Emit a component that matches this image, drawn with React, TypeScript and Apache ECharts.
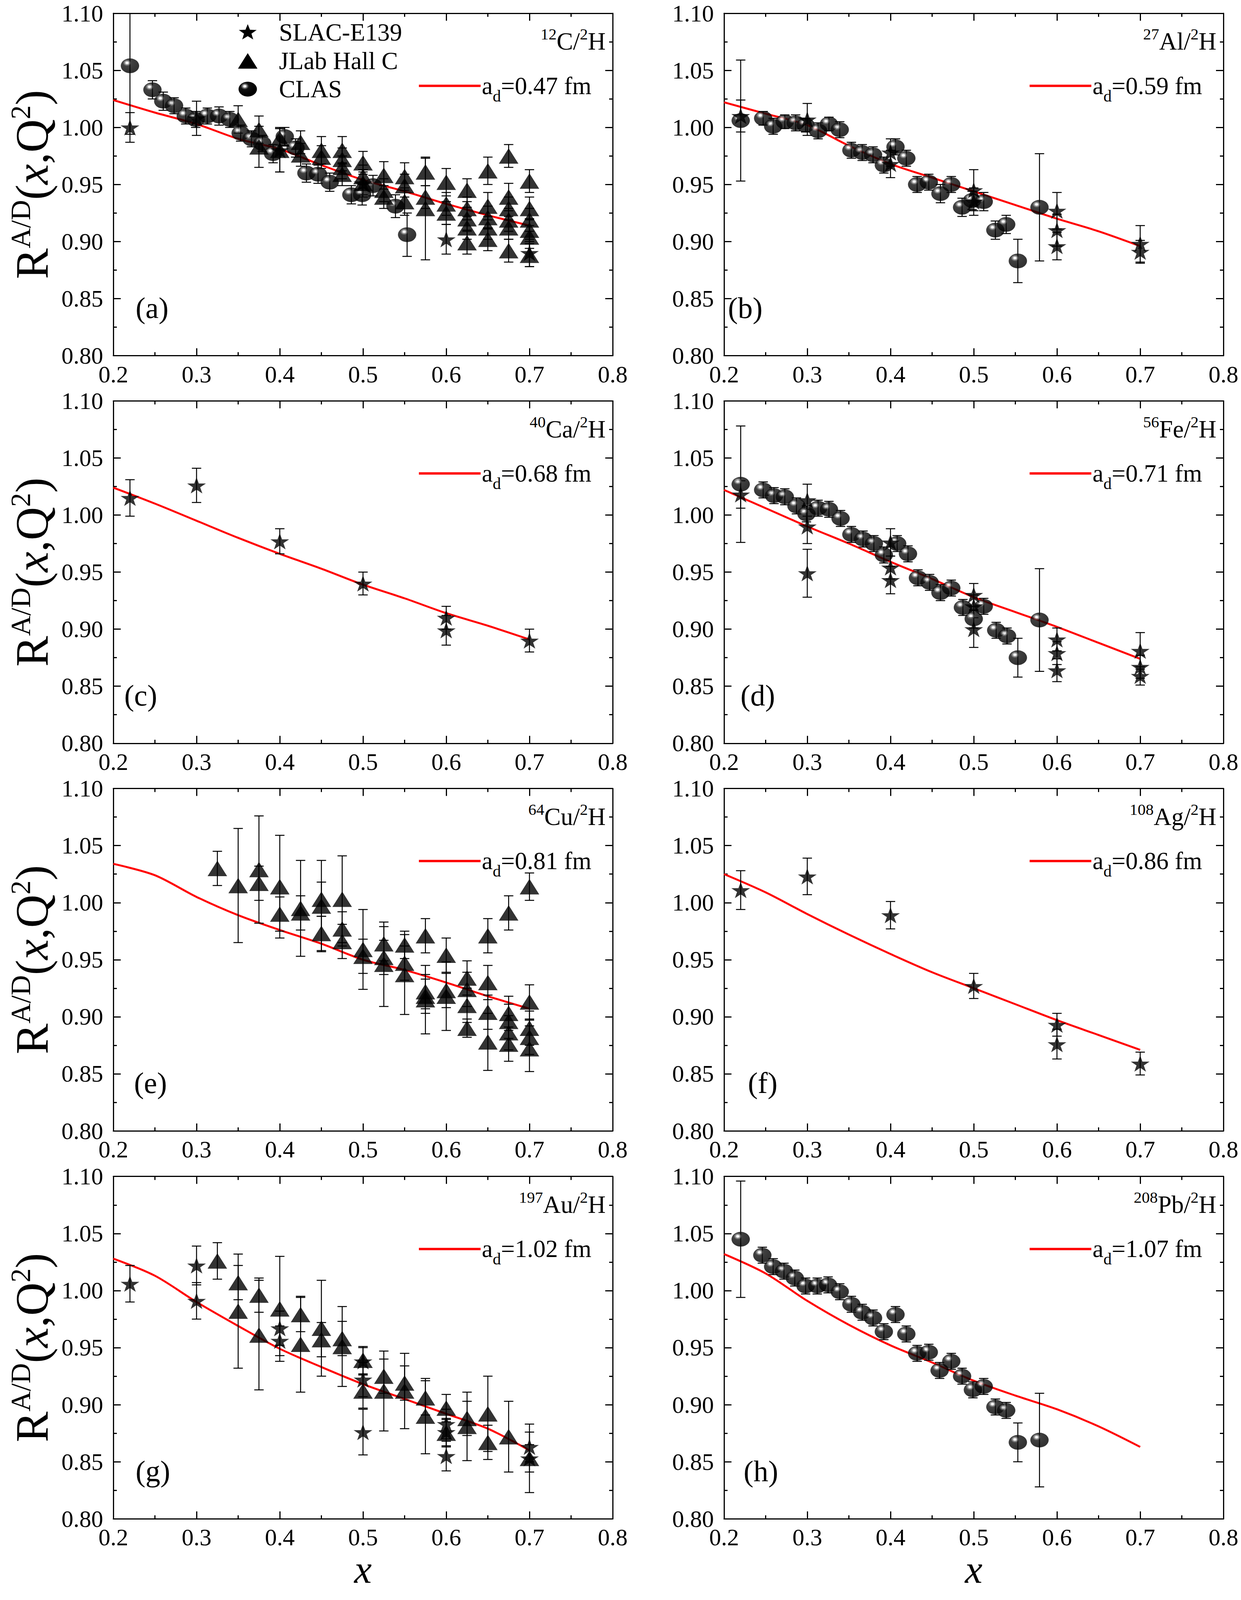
import React, { useEffect, useRef, useState } from 'react';
import * as echarts from 'echarts';

const W = 3176;
const H = 4809;
const SERIF = 'Liberation Serif';

// ---------- data ----------
const LINE_X = [0.2, 0.25, 0.3, 0.35, 0.4, 0.45, 0.5, 0.55, 0.6, 0.65, 0.7];
const LINE_C = [1.024, 1.013, 1.003, 0.990, 0.981, 0.967, 0.954, 0.944, 0.933, 0.923, 0.914];
const LINE_AL = [1.022, 1.012, 1.002, 0.984, 0.968, 0.956, 0.944, 0.932, 0.920, 0.909, 0.896];
const LINE_CA = [1.024, 1.010, 0.995, 0.980, 0.966, 0.953, 0.939, 0.927, 0.914, 0.903, 0.891];
const LINE_FE = [1.022, 1.006, 0.990, 0.975, 0.959, 0.944, 0.928, 0.915, 0.902, 0.888, 0.874];
const LINE_CU = [1.034, 1.024, 1.005, 0.989, 0.976, 0.964, 0.950, 0.941, 0.930, 0.918, 0.907];
const LINE_AG = [1.025, 1.009, 0.990, 0.972, 0.955, 0.939, 0.925, 0.911, 0.897, 0.884, 0.871];
const LINE_AU = [1.028, 1.013, 0.990, 0.969, 0.949, 0.933, 0.918, 0.905, 0.892, 0.879, 0.860];
const LINE_PB = [1.032, 1.015, 0.991, 0.970, 0.952, 0.937, 0.921, 0.908, 0.896, 0.881, 0.863];

// [x, R, error]
const SLAC_C = [[0.22, 1.000, 0.013], [0.30, 1.008, 0.015], [0.40, 0.980, 0.019], [0.50, 0.951, 0.012], [0.60, 0.902, 0.013], [0.70, 0.890, 0.012]];
const JLAB_C = [
  [0.35, 1.007, 0.012],
  [0.375, 0.998, 0.012], [0.375, 0.983, 0.018],
  [0.4, 0.990, 0.010], [0.4, 0.980, 0.019],
  [0.425, 0.987, 0.010], [0.425, 0.976, 0.010],
  [0.45, 0.980, 0.012], [0.45, 0.974, 0.010],
  [0.475, 0.980, 0.012], [0.475, 0.972, 0.010], [0.475, 0.965, 0.010], [0.475, 0.959, 0.010],
  [0.5, 0.969, 0.010], [0.5, 0.957, 0.010], [0.5, 0.951, 0.010],
  [0.525, 0.958, 0.012], [0.525, 0.945, 0.010], [0.525, 0.939, 0.010],
  [0.55, 0.957, 0.012], [0.55, 0.949, 0.010], [0.55, 0.935, 0.012],
  [0.575, 0.961, 0.012], [0.575, 0.939, 0.010], [0.575, 0.929, 0.045],
  [0.6, 0.952, 0.012], [0.6, 0.933, 0.010], [0.6, 0.925, 0.010],
  [0.625, 0.945, 0.010], [0.625, 0.929, 0.010], [0.625, 0.920, 0.010], [0.625, 0.912, 0.010], [0.625, 0.899, 0.010],
  [0.65, 0.962, 0.012], [0.65, 0.931, 0.012], [0.65, 0.921, 0.010], [0.65, 0.912, 0.010], [0.65, 0.902, 0.010],
  [0.675, 0.975, 0.010], [0.675, 0.939, 0.012], [0.675, 0.929, 0.010], [0.675, 0.919, 0.010], [0.675, 0.912, 0.010], [0.675, 0.892, 0.010],
  [0.7, 0.953, 0.010], [0.7, 0.929, 0.010], [0.7, 0.919, 0.010], [0.7, 0.910, 0.010], [0.7, 0.904, 0.010], [0.7, 0.888, 0.010],
];
const CLAS_C = [
  [0.22, 1.054, 0.060], [0.247, 1.033, 0.008], [0.26, 1.023, 0.008], [0.273, 1.019, 0.007], [0.287, 1.010, 0.007],
  [0.299, 1.007, 0.007], [0.313, 1.010, 0.007], [0.327, 1.010, 0.008], [0.34, 1.007, 0.007], [0.353, 0.995, 0.007],
  [0.366, 0.990, 0.007], [0.379, 0.986, 0.007], [0.392, 0.977, 0.008], [0.406, 0.992, 0.008], [0.419, 0.982, 0.008],
  [0.432, 0.960, 0.008], [0.446, 0.959, 0.008], [0.46, 0.952, 0.008], [0.486, 0.941, 0.008], [0.499, 0.941, 0.009],
  [0.512, 0.949, 0.009], [0.539, 0.931, 0.010], [0.553, 0.906, 0.019],
];

const SLAC_AL = [
  [0.22, 1.010, 0.014], [0.30, 1.007, 0.014], [0.40, 0.978, 0.012], [0.40, 0.968, 0.012], [0.50, 0.945, 0.018],
  [0.50, 0.935, 0.012], [0.60, 0.927, 0.016], [0.60, 0.910, 0.014], [0.60, 0.896, 0.012], [0.70, 0.898, 0.016], [0.70, 0.891, 0.010],
];
const CLAS_AL = [
  [0.22, 1.006, 0.053], [0.247, 1.008, 0.006], [0.259, 1.001, 0.007], [0.273, 1.005, 0.006], [0.286, 1.004, 0.007],
  [0.298, 1.002, 0.006], [0.313, 0.997, 0.007], [0.326, 1.003, 0.006], [0.339, 0.998, 0.007], [0.353, 0.980, 0.007],
  [0.366, 0.978, 0.007], [0.379, 0.976, 0.007], [0.392, 0.967, 0.007], [0.406, 0.983, 0.007], [0.419, 0.973, 0.007],
  [0.432, 0.950, 0.007], [0.446, 0.952, 0.007], [0.46, 0.942, 0.008], [0.473, 0.950, 0.007], [0.486, 0.930, 0.008],
  [0.498, 0.936, 0.008], [0.512, 0.935, 0.008], [0.526, 0.910, 0.008], [0.539, 0.915, 0.008], [0.553, 0.883, 0.019],
  [0.579, 0.930, 0.047],
];

const SLAC_CA = [[0.22, 1.015, 0.016], [0.30, 1.026, 0.015], [0.40, 0.977, 0.011], [0.50, 0.940, 0.010], [0.60, 0.910, 0.010], [0.60, 0.899, 0.013], [0.70, 0.890, 0.010]];

const SLAC_FE = [
  [0.22, 1.018, 0.012], [0.30, 1.013, 0.014], [0.30, 0.990, 0.015], [0.30, 0.949, 0.021], [0.40, 0.976, 0.012],
  [0.40, 0.954, 0.010], [0.40, 0.943, 0.012], [0.50, 0.930, 0.010], [0.50, 0.920, 0.010], [0.50, 0.900, 0.016],
  [0.60, 0.891, 0.010], [0.60, 0.879, 0.010], [0.60, 0.864, 0.010], [0.70, 0.881, 0.016], [0.70, 0.867, 0.010], [0.70, 0.859, 0.008],
];
const CLAS_FE = [
  [0.22, 1.027, 0.051], [0.247, 1.022, 0.007], [0.26, 1.017, 0.007], [0.273, 1.016, 0.007], [0.287, 1.008, 0.007],
  [0.299, 1.001, 0.007], [0.313, 1.006, 0.007], [0.326, 1.005, 0.007], [0.34, 0.997, 0.007], [0.353, 0.983, 0.007],
  [0.367, 0.979, 0.007], [0.38, 0.975, 0.007], [0.392, 0.965, 0.007], [0.408, 0.975, 0.007], [0.421, 0.966, 0.007],
  [0.433, 0.945, 0.007], [0.447, 0.941, 0.007], [0.46, 0.932, 0.007], [0.473, 0.936, 0.007], [0.487, 0.919, 0.007],
  [0.50, 0.909, 0.008], [0.512, 0.920, 0.007], [0.527, 0.899, 0.007], [0.54, 0.894, 0.007], [0.553, 0.875, 0.017],
  [0.579, 0.908, 0.045],
];

const JLAB_CU = [
  [0.325, 1.030, 0.015],
  [0.35, 1.015, 0.050],
  [0.375, 1.029, 0.047], [0.375, 1.017, 0.015],
  [0.4, 1.014, 0.045], [0.4, 0.990, 0.015],
  [0.425, 0.995, 0.042], [0.425, 0.991, 0.015],
  [0.45, 1.003, 0.015], [0.45, 0.997, 0.040], [0.45, 0.973, 0.015],
  [0.475, 1.003, 0.038], [0.475, 0.977, 0.015], [0.475, 0.966, 0.015],
  [0.5, 0.959, 0.035], [0.5, 0.953, 0.015],
  [0.525, 0.964, 0.015], [0.525, 0.952, 0.015], [0.525, 0.946, 0.037],
  [0.55, 0.963, 0.012], [0.55, 0.947, 0.015], [0.55, 0.937, 0.035],
  [0.575, 0.971, 0.015], [0.575, 0.922, 0.015], [0.575, 0.918, 0.015], [0.575, 0.915, 0.030],
  [0.6, 0.954, 0.015], [0.6, 0.923, 0.015], [0.6, 0.918, 0.030],
  [0.625, 0.934, 0.015], [0.625, 0.924, 0.015], [0.625, 0.910, 0.015], [0.625, 0.890, 0.008],
  [0.65, 0.971, 0.015], [0.65, 0.930, 0.015], [0.65, 0.904, 0.015], [0.65, 0.878, 0.025],
  [0.675, 0.991, 0.015], [0.675, 0.903, 0.015], [0.675, 0.896, 0.015], [0.675, 0.886, 0.015], [0.675, 0.876, 0.015],
  [0.7, 1.014, 0.012], [0.7, 0.913, 0.015], [0.7, 0.890, 0.015], [0.7, 0.882, 0.015], [0.7, 0.872, 0.020],
];

const SLAC_AG = [[0.22, 1.011, 0.017], [0.30, 1.023, 0.016], [0.40, 0.989, 0.012], [0.50, 0.927, 0.011], [0.60, 0.893, 0.010], [0.60, 0.876, 0.013], [0.70, 0.859, 0.010]];

const SLAC_AU = [
  [0.22, 1.006, 0.016], [0.30, 1.022, 0.017], [0.30, 0.991, 0.016], [0.40, 0.967, 0.015], [0.40, 0.956, 0.013],
  [0.50, 0.938, 0.012], [0.50, 0.922, 0.015], [0.50, 0.876, 0.020], [0.60, 0.883, 0.013], [0.60, 0.876, 0.012],
  [0.60, 0.855, 0.013], [0.70, 0.863, 0.013], [0.70, 0.853, 0.012],
];
const JLAB_AU = [
  [0.325, 1.026, 0.016],
  [0.35, 1.007, 0.015], [0.35, 0.982, 0.050],
  [0.375, 0.996, 0.015], [0.375, 0.961, 0.048],
  [0.4, 0.984, 0.046],
  [0.425, 0.979, 0.015], [0.425, 0.953, 0.042],
  [0.45, 0.967, 0.042], [0.45, 0.957, 0.015],
  [0.475, 0.958, 0.015], [0.475, 0.951, 0.035],
  [0.5, 0.939, 0.012], [0.5, 0.912, 0.015],
  [0.525, 0.925, 0.015], [0.525, 0.912, 0.035],
  [0.55, 0.919, 0.015], [0.55, 0.912, 0.033],
  [0.575, 0.906, 0.015], [0.575, 0.890, 0.033],
  [0.6, 0.897, 0.012], [0.6, 0.875, 0.012],
  [0.625, 0.888, 0.015], [0.625, 0.881, 0.030],
  [0.65, 0.892, 0.033], [0.65, 0.867, 0.015],
  [0.675, 0.872, 0.031],
  [0.7, 0.853, 0.030],
];

const CLAS_PB = [
  [0.22, 1.045, 0.051], [0.246, 1.031, 0.007], [0.259, 1.021, 0.007], [0.272, 1.017, 0.007], [0.285, 1.011, 0.007],
  [0.298, 1.004, 0.007], [0.312, 1.004, 0.007], [0.325, 1.005, 0.007], [0.339, 0.999, 0.007], [0.353, 0.988, 0.007],
  [0.366, 0.981, 0.007], [0.379, 0.976, 0.007], [0.392, 0.964, 0.007], [0.406, 0.979, 0.007], [0.419, 0.962, 0.007],
  [0.432, 0.945, 0.007], [0.446, 0.946, 0.007], [0.459, 0.930, 0.007], [0.473, 0.938, 0.007], [0.486, 0.925, 0.007],
  [0.499, 0.913, 0.007], [0.512, 0.916, 0.007], [0.526, 0.898, 0.007], [0.539, 0.895, 0.007], [0.553, 0.867, 0.017],
  [0.579, 0.869, 0.041],
];

const PANELS: any[] = [
  { tag: '(a)', num: '12', el: 'C', ad: '0.47', line: LINE_C, slac: SLAC_C, jlab: JLAB_C, clas: CLAS_C, legend: true },
  { tag: '(b)', num: '27', el: 'Al', ad: '0.59', line: LINE_AL, slac: SLAC_AL, clas: CLAS_AL },
  { tag: '(c)', num: '40', el: 'Ca', ad: '0.68', line: LINE_CA, slac: SLAC_CA },
  { tag: '(d)', num: '56', el: 'Fe', ad: '0.71', line: LINE_FE, slac: SLAC_FE, clas: CLAS_FE },
  { tag: '(e)', num: '64', el: 'Cu', ad: '0.81', line: LINE_CU, jlab: JLAB_CU },
  { tag: '(f)', num: '108', el: 'Ag', ad: '0.86', line: LINE_AG, slac: SLAC_AG },
  { tag: '(g)', num: '197', el: 'Au', ad: '1.02', line: LINE_AU, slac: SLAC_AU, jlab: JLAB_AU },
  { tag: '(h)', num: '208', el: 'Pb', ad: '1.07', line: LINE_PB, clas: CLAS_PB },
];

// ---------- layout (reference pixels; vertical values get scaled to the visible height) ----------
const COL_LEFT = [290, 1853];
const ROW_TOP = [40, 1205, 2370, 3536];
const GW = 1278;
const GH = 1029;
const TAG_X = [57, 10, 28, 42, 53, 61, 57, 50];

const STAR_PATH = 'path://M50,0 L61.8,35.4 L99,35.4 L69,57.3 L80.4,92.7 L50,70.8 L19.6,92.7 L31,57.3 L1,35.4 L38.2,35.4 Z';
const ELLIPSE_PATH = 'path://M0,50 A50,50 0 1,1 100,50 A50,50 0 1,1 0,50 Z';

const sphereFill = () =>
  new echarts.graphic.RadialGradient(0.34, 0.3, 0.62, [
    { offset: 0, color: '#ffffff' },
    { offset: 0.09, color: '#ffffff' },
    { offset: 0.15, color: '#b0b0b0' },
    { offset: 0.24, color: '#606060' },
    { offset: 0.36, color: '#111111' },
    { offset: 1, color: '#000000' },
  ]);

const errRender = (params: any, api: any) => {
  const x = api.value(0);
  const y = api.value(1);
  const e = api.value(2);
  const p0 = api.coord([x, y + e]);
  const p1 = api.coord([x, y - e]);
  const hw = 12;
  const style = { stroke: '#000', lineWidth: 2.5, fill: null };
  return {
    type: 'group',
    children: [
      { type: 'line', shape: { x1: p0[0], y1: p0[1], x2: p1[0], y2: p1[1] }, style },
      { type: 'line', shape: { x1: p0[0] - hw, y1: p0[1], x2: p0[0] + hw, y2: p0[1] }, style },
      { type: 'line', shape: { x1: p1[0] - hw, y1: p1[1], x2: p1[0] + hw, y2: p1[1] }, style },
    ],
  };
};

function buildOption(sy: number, hVis: number) {
  const grid: any[] = [];
  const xAxis: any[] = [];
  const yAxis: any[] = [];
  const series: any[] = [];
  const graphic: any[] = [];
  const fs = Math.max(0.9, sy);

  const tickStyle = { color: '#000', width: 3 };
  const labelStyle = { fontSize: Math.round(68 * fs), fontFamily: SERIF, color: '#000' };

  PANELS.forEach((p, i) => {
    const col = i % 2;
    const row = Math.floor(i / 2);
    const gl = COL_LEFT[col];
    const gt = ROW_TOP[row] * sy;
    const gh = GH * sy;
    grid.push({ left: gl, top: gt, width: GW, height: gh, containLabel: false });

    const xBase = {
      type: 'value', gridIndex: i, min: 0.2, max: 0.8, interval: 0.1,
      axisLine: { onZero: false, lineStyle: tickStyle },
      axisTick: { inside: true, length: 19, lineStyle: tickStyle },
      minorTick: { show: true, splitNumber: 2, length: 9, lineStyle: tickStyle },
      splitLine: { show: false }, minorSplitLine: { show: false },
    };
    xAxis.push({ ...xBase, position: 'bottom', axisLabel: { ...labelStyle, margin: 20 * sy, formatter: (v: number) => v.toFixed(1) } });
    xAxis.push({ ...xBase, position: 'top', axisLabel: { show: false } });

    const yBase = {
      type: 'value', gridIndex: i, min: 0.8, max: 1.1, interval: 0.05,
      axisLine: { onZero: false, lineStyle: tickStyle },
      axisTick: { inside: true, length: 19, lineStyle: tickStyle },
      minorTick: { show: true, splitNumber: 2, length: 9, lineStyle: tickStyle },
      splitLine: { show: false }, minorSplitLine: { show: false },
    };
    yAxis.push({ ...yBase, position: 'left', axisLabel: { ...labelStyle, margin: 26, formatter: (v: number) => v.toFixed(2) } });
    yAxis.push({ ...yBase, position: 'right', axisLabel: { show: false } });

    const xi = 2 * i;
    const yi = 2 * i;

    series.push({
      type: 'line', xAxisIndex: xi, yAxisIndex: yi, showSymbol: false, smooth: 0.3,
      data: LINE_X.map((x, k) => [x, p.line[k]]),
      lineStyle: { color: '#ff0000', width: 5 }, z: 1, silent: true,
    });

    const sets: any[] = [];
    if (p.clas) sets.push({ data: p.clas, kind: 'clas' });
    if (p.jlab) sets.push({ data: p.jlab, kind: 'jlab' });
    if (p.slac) sets.push({ data: p.slac, kind: 'slac' });

    sets.forEach((s) => {
      series.push({
        type: 'custom', xAxisIndex: xi, yAxisIndex: yi, renderItem: errRender, clip: true,
        encode: { x: 0, y: 1 }, data: s.data, z: 2, silent: true,
      });
    });
    sets.forEach((s, k) => {
      const base: any = {
        type: 'scatter', xAxisIndex: xi, yAxisIndex: yi, silent: true, z: 3 + k,
        data: s.data.map((d: number[]) => [d[0], d[1]]),
      };
      if (s.kind === 'clas') {
        base.symbol = ELLIPSE_PATH;
        base.symbolSize = [47, 42 * fs];
        base.itemStyle = { color: sphereFill() };
      } else if (s.kind === 'jlab') {
        base.symbol = 'triangle';
        base.symbolSize = [50, 44 * fs];
        base.itemStyle = { color: '#000' };
      } else {
        base.symbol = STAR_PATH;
        base.symbolSize = [48, 46 * fs];
        base.itemStyle = { color: '#000' };
      }
      series.push(base);
    });

    graphic.push({
      type: 'text', x: gl + GW - 18, y: gt + 85 * sy, z: 100,
      style: {
        text: `{s|${p.num}}{n|${p.el}/}{s|2}{n|H}`,
        align: 'right', verticalAlign: 'middle',
        rich: {
          n: { fontSize: Math.round(70 * fs), fontFamily: SERIF, fill: '#000', lineHeight: 88 * fs },
          s: { fontSize: Math.round(46 * fs), fontFamily: SERIF, fill: '#000', verticalAlign: 'top' },
        },
      },
    });
    graphic.push({
      type: 'line', z: 100,
      shape: { x1: gl + 782, y1: gt + 218 * sy, x2: gl + 940, y2: gt + 218 * sy },
      style: { stroke: '#ff0000', lineWidth: 6 },
    });
    graphic.push({
      type: 'text', x: gl + 943, y: gt + 218 * sy, z: 100,
      style: {
        text: `{n|a}{d|d}{n|=${p.ad} fm}`,
        align: 'left', verticalAlign: 'middle',
        rich: {
          n: { fontSize: Math.round(70 * fs), fontFamily: SERIF, fill: '#000', lineHeight: 104 * fs },
          d: { fontSize: Math.round(47 * fs), fontFamily: SERIF, fill: '#000', verticalAlign: 'bottom' },
        },
      },
    });
    graphic.push({
      type: 'text', x: gl + TAG_X[i], y: gt + 885 * sy, z: 100,
      style: { text: p.tag, fontSize: Math.round(84 * fs), fontFamily: SERIF, fill: '#000', align: 'left', verticalAlign: 'middle' },
    });

    if (p.legend) {
      const lx = gl + 344;
      const names = ['SLAC-E139', 'JLab Hall C', 'CLAS'];
      const ys = [gt + 58 * sy, gt + 143 * sy, gt + 228 * sy];
      const pts: number[][] = [];
      for (let k = 0; k < 10; k++) {
        const r = k % 2 === 0 ? 24 : 10;
        const a = -Math.PI / 2 + (k * Math.PI) / 5;
        pts.push([lx + r * Math.cos(a), ys[0] + r * fs * Math.sin(a)]);
      }
      graphic.push({ type: 'polygon', z: 100, shape: { points: pts }, style: { fill: '#000' } });
      graphic.push({
        type: 'polygon', z: 100,
        shape: { points: [[lx, ys[1] - 22 * fs], [lx + 25, ys[1] + 22 * fs], [lx - 25, ys[1] + 22 * fs]] },
        style: { fill: '#000' },
      });
      graphic.push({ type: 'ellipse', z: 100, shape: { cx: lx, cy: ys[2], rx: 23.5, ry: 21 * fs }, style: { fill: sphereFill() } });
      names.forEach((nm, k) => {
        graphic.push({
          type: 'text', x: gl + 424, y: ys[k], z: 100,
          style: { text: nm, fontSize: Math.round(70 * fs), fontFamily: SERIF, fill: '#000', align: 'left', verticalAlign: 'middle' },
        });
      });
    }
  });

  ROW_TOP.forEach((t) => {
    graphic.push({
      type: 'text', x: 82, y: (t + GH / 2) * sy, rotation: Math.PI / 2, z: 100,
      style: {
        text: '{R|R}{s|A/D}{n|(}{i|x}{n|,Q}{s|2}{n|)}',
        align: 'center', verticalAlign: 'middle',
        rich: {
          R: { fontSize: 118, fontFamily: SERIF, fill: '#000', lineHeight: 130 },
          n: { fontSize: 118, fontFamily: SERIF, fill: '#000', lineHeight: 130 },
          i: { fontSize: 118, fontFamily: SERIF, fontStyle: 'italic', fill: '#000', lineHeight: 130 },
          s: { fontSize: 72, fontFamily: SERIF, fill: '#000', verticalAlign: 'top' },
        },
      },
    });
  });
  const xLabelY = Math.min(4755 * sy, hVis - 78);
  COL_LEFT.forEach((l) => {
    graphic.push({
      type: 'text', x: l + GW / 2, y: xLabelY, z: 100,
      style: { text: 'x', fontSize: Math.round(112 * fs), lineHeight: 110, fontFamily: SERIF, fontStyle: 'italic', fill: '#000', align: 'center', verticalAlign: 'middle' },
    });
  });

  return { animation: false, backgroundColor: '#fff', grid, xAxis, yAxis, series, graphic };
}

export default function App() {
  const ref = useRef<HTMLDivElement>(null);
  const viewH = typeof window !== 'undefined' && window.innerHeight > 0 ? Math.min(H, window.innerHeight) : H;
  const [h] = useState(viewH);
  useEffect(() => {
    document.body.style.margin = '0';
    if (!ref.current) return;
    const sy = h / H;
    const chart = echarts.init(ref.current, undefined, { renderer: 'svg' });
    chart.setOption(buildOption(sy, h) as any);
    return () => chart.dispose();
  }, [h]);
  return <div ref={ref} style={{ width: W, height: h, background: '#fff' }} />;
}
